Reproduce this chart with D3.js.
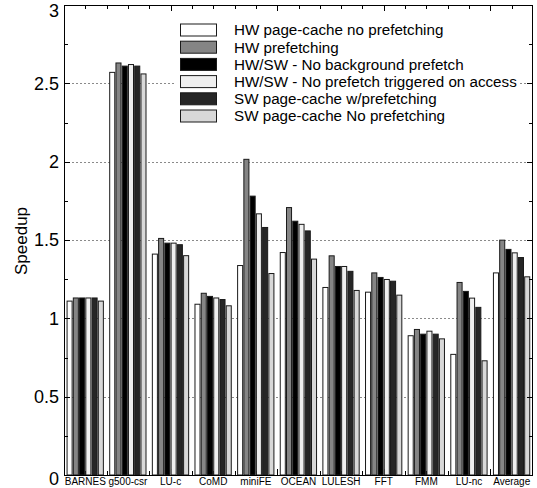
<!DOCTYPE html>
<html><head><meta charset="utf-8">
<script src="https://cdn.jsdelivr.net/npm/d3@7"></script>
<style>body{margin:0;background:#fff;} text{font-family:"Liberation Sans",Arial,sans-serif;fill:#000;}</style>
</head><body><svg id="c" width="537" height="488"></svg>
<script>
const categories = ["BARNES","g500-csr","LU-c","CoMD","miniFE","OCEAN","LULESH","FFT","FMM","LU-nc","Average"];
const seriesNames = ["HW page-cache no prefetching","HW prefetching","HW/SW - No background prefetch","HW/SW - No prefetch triggered on access","SW page-cache w/prefetching","SW page-cache No prefetching"];
const seriesColors = ["#ffffff","#858585","#000000","#efefef","#262626","#d8d8d8"];
const hwNoPrefetch   = [1.11, 2.57, 1.41, 1.09, 1.337, 1.42, 1.197, 1.167, 0.889, 0.77, 1.29];
const hwPrefetch     = [1.13, 2.63, 1.51, 1.16, 2.015, 1.707, 1.399, 1.29, 0.929, 1.229, 1.499];
const hwswNoBg       = [1.13, 2.61, 1.48, 1.14, 1.78, 1.62, 1.331, 1.261, 0.899, 1.172, 1.44];
const hwswNoTrigger  = [1.13, 2.62, 1.48, 1.13, 1.667, 1.60, 1.331, 1.248, 0.918, 1.129, 1.418];
const swPrefetch     = [1.13, 2.61, 1.47, 1.12, 1.58, 1.558, 1.30, 1.237, 0.899, 1.07, 1.388];
const swNoPrefetch   = [1.11, 2.56, 1.40, 1.08, 1.286, 1.378, 1.178, 1.148, 0.869, 0.729, 1.265];
const series = [hwNoPrefetch, hwPrefetch, hwswNoBg, hwswNoTrigger, swPrefetch, swNoPrefetch];
const yTicks = [0, 0.5, 1, 1.5, 2, 2.5, 3];
const yLabels = ["0","0.5","1","1.5","2","2.5","3"];

const L = 64, R = 533, T = 5, B = 475;
const svg = d3.select("#c");
const y = d3.scaleLinear().domain([0, 3]).range([B, T]);
const x = d3.scaleBand().domain(categories).range([L, R]);
const xt = d3.scaleLinear().domain([0, 22]).range([L, R]);
const groupSpan = 37.5;
const xi = d3.scaleBand().domain(d3.range(seriesNames.length)).range([0, groupSpan]);

// gridlines
svg.append("g").selectAll("line").data(yTicks.filter(v => v > 0 && v < 3)).join("line")
  .attr("x1", L).attr("x2", R).attr("y1", d => Math.round(y(d)) + 0.5).attr("y2", d => Math.round(y(d)) + 0.5)
  .attr("stroke", "#8a8a8a").attr("stroke-width", 1).attr("stroke-dasharray", "2,2");

// x ticks (top & bottom)
const xtv = d3.range(1, 22);
const tg = svg.append("g").attr("stroke", "#000").attr("stroke-width", 1);
tg.selectAll("line.t").data(xtv).join("line").attr("class","t")
  .attr("x1", d => Math.round(xt(d)) + 0.5).attr("x2", d => Math.round(xt(d)) + 0.5)
  .attr("y1", T).attr("y2", d => T + (d % 5 === 0 ? 6 : 4));
tg.selectAll("line.b").data(xtv).join("line").attr("class","b")
  .attr("x1", d => Math.round(xt(d)) + 0.5).attr("x2", d => Math.round(xt(d)) + 0.5)
  .attr("y1", B).attr("y2", d => B - (d % 5 === 0 ? 6 : 4));

// bars
const groups = svg.append("g").selectAll("g").data(categories).join("g")
  .attr("transform", c => `translate(${x(c) + x.bandwidth() / 2 - groupSpan / 2},0)`);
groups.selectAll("rect").data((c, ci) => series.map((s, si) => ({si, v: s[ci]}))).join("rect")
  .attr("x", d => xi(d.si) + 0.5)
  .attr("width", xi.bandwidth() - 1.2)
  .attr("y", d => y(d.v))
  .attr("height", d => B - y(d.v))
  .attr("fill", d => seriesColors[d.si])
  .attr("stroke", "#1a1a1a").attr("stroke-width", 1);

// y ticks left & right
const yMinor = d3.range(0.25, 3, 0.25);
const yg = svg.append("g").attr("stroke", "#000").attr("stroke-width", 1);
yg.selectAll("line.l").data(yMinor).join("line").attr("class","l")
  .attr("x1", L).attr("x2", d => L + (Math.abs(d * 2 - Math.round(d * 2)) < 1e-6 ? 6 : 4))
  .attr("y1", d => Math.round(y(d)) + 0.5).attr("y2", d => Math.round(y(d)) + 0.5);
yg.selectAll("line.r").data(yMinor).join("line").attr("class","r")
  .attr("x1", R).attr("x2", d => R - (Math.abs(d * 2 - Math.round(d * 2)) < 1e-6 ? 6 : 4))
  .attr("y1", d => Math.round(y(d)) + 0.5).attr("y2", d => Math.round(y(d)) + 0.5);

// frame
svg.append("rect").attr("x", L + 0.5).attr("y", T + 0.5).attr("width", R - L - 1).attr("height", B - T)
  .attr("fill", "none").attr("stroke", "#000").attr("stroke-width", 1);

// y tick labels
svg.append("g").selectAll("text").data(yTicks).join("text")
  .attr("x", L - 5).attr("y", d => y(d) + (d === 3 ? 6 : d === 0 ? 4 : 0)).attr("dy", "0.36em")
  .attr("text-anchor", "end").attr("font-size", 18)
  .text((d, i) => yLabels[i]);

// y title
svg.append("text").attr("transform", "translate(21,241) rotate(-90)")
  .attr("text-anchor", "middle").attr("dy", "0.35em").attr("font-size", 17).text("Speedup");

// category labels
svg.append("g").selectAll("text").data(categories).join("text")
  .attr("x", c => x(c) + x.bandwidth() / 2).attr("y", 485)
  .attr("text-anchor", "middle").attr("font-size", 10).text(c => c);

// legend
const lg = svg.append("g");
lg.append("rect").attr("x", 174).attr("y", 20).attr("width", 345).attr("height", 106).attr("fill", "#fff");
const rows = lg.selectAll("g").data(seriesNames).join("g")
  .attr("transform", (d, i) => `translate(0,${30 + i * 17.2})`);
rows.append("rect").attr("x", 180.5).attr("y", -6).attr("width", 36).attr("height", 12)
  .attr("fill", (d, i) => seriesColors[i]).attr("stroke", "#1a1a1a").attr("stroke-width", 1);
rows.append("text").attr("x", 234).attr("y", 0).attr("dy", "0.35em").attr("font-size", 15.2).text(d => d);
</script></body></html>
